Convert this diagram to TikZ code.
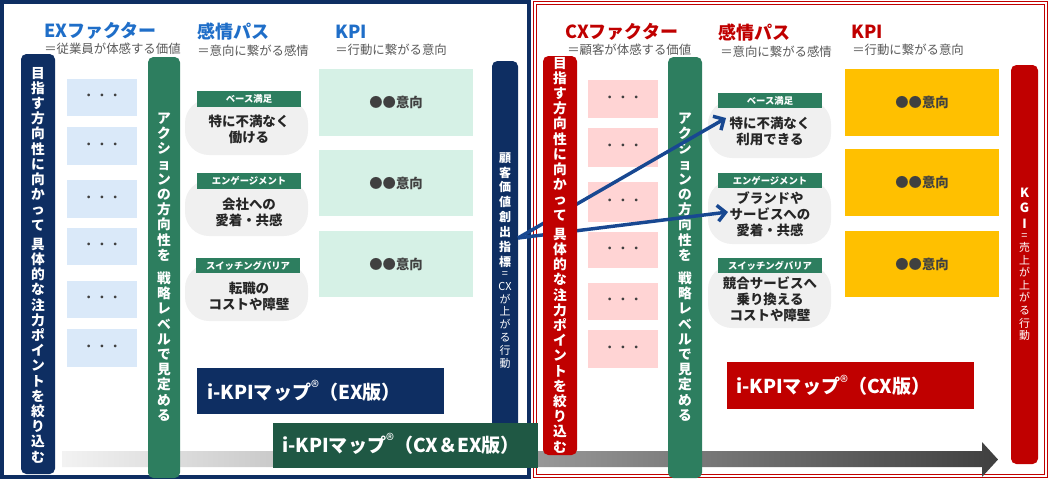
\documentclass[tikz,border=0pt]{standalone}
\usepackage{fontspec}
\setmainfont{Noto Sans CJK JP}
\usetikzlibrary{arrows.meta,fit}
\definecolor{navy}{RGB}{14,46,98}
\definecolor{exhead}{RGB}{31,110,200}
\definecolor{redc}{RGB}{192,0,0}
\definecolor{gtxt}{RGB}{89,89,89}
\definecolor{exlb}{RGB}{218,233,249}
\definecolor{mint}{RGB}{214,241,230}
\definecolor{pinkc}{RGB}{255,212,212}
\definecolor{gold}{RGB}{255,192,0}
\definecolor{grn}{RGB}{45,126,95}
\definecolor{dgrn}{RGB}{31,88,68}
\definecolor{blobc}{RGB}{240,240,240}
\definecolor{arrblue}{RGB}{24,72,145}
\definecolor{dark}{RGB}{64,64,64}
\newcommand\fsz[2]{\fontsize{#1}{#2}\selectfont}
\newcommand\regm{\raisebox{0.28em}{\fsz{12.5}{12.5}\mdseries ®}}
% box with centred text: style, fit, name, text style, text
\newcommand\tbox[5]{\node[#1,fit={#2}] (#3) {};\node[#4] (#3t) at (#3.center) {#5};}
\begin{document}
\begin{tikzpicture}[x=0.75pt,y=-0.75pt,
  area/.style={inner sep=0pt,outer sep=0pt,draw=none},
  exfac/.style={area,fill=exlb},
  cxfac/.style={area,fill=pinkc},
  dots/.style={inner sep=0pt,font=\fsz{10}{12},text=dark},
  kpiex/.style={area,fill=mint},
  kpicx/.style={area,fill=gold},
  kpit/.style={inner sep=0pt,font=\fsz{10}{12}\bfseries,text=dark},
  blob/.style={area,fill=blobc,rounded corners=18pt},
  tabbox/.style={area,fill=grn},
  tabt/.style={inner sep=0pt,text=white,font=\fsz{7}{8}\bfseries},
  emo/.style={inner sep=0pt,align=center,text=black!85,font=\fsz{10.1}{12}\bfseries},
  vbar/.style={area,rounded corners=4pt},
  vt/.style={inner sep=0pt,align=center,text=white,font=\fsz{10.3}{11.4}\bfseries},
  head/.style={anchor=west,inner sep=0pt,font=\fsz{13.5}{16}\bfseries},
  subt/.style={anchor=west,inner sep=0pt,text=gtxt,font=\fsz{9.3}{11}},
  mapl/.style={area},
  mapt/.style={anchor=west,inner sep=0pt,text=white,font=\fsz{14.3}{16}\bfseries},
  arr/.style={draw=arrblue,line width=2.6pt,-{Straight Barb[length=6pt,width=12pt]}}
]
\useasboundingbox (0,0) rectangle (1050,480);
% frames
\draw[navy,line width=2.3pt] (2,2) rectangle (529,477);
\draw[redc,line width=0.8pt,double=white,double distance=1.6pt] (535,3) rectangle (1046,476);
% bottom gradient arrow
\shade[left color=black!5,right color=black!75] (62,451) -- (982,451) -- (982,442) -- (998,459.5) -- (982,477) -- (982,467) -- (62,467) -- cycle;

% ===== EX side =====
\tbox{exfac}{(67,79)(137,116)}{ef1}{dots}{・・・}
\tbox{exfac}{(67,127)(137,165)}{ef2}{dots}{・・・}
\tbox{exfac}{(67,180)(137,218)}{ef3}{dots}{・・・}
\tbox{exfac}{(67,228)(137,265)}{ef4}{dots}{・・・}
\tbox{exfac}{(67,281)(137,318)}{ef5}{dots}{・・・}
\tbox{exfac}{(67,329)(137,367)}{ef6}{dots}{・・・}

\node[blob,fit={(185,99)(308,155)}] (eb1) {};
\node[blob,fit={(185,180)(308,236)}] (eb2) {};
\node[blob,fit={(185,264)(308,321)}] (eb3) {};
\tbox{tabbox}{(197,91)(301,107)}{et1}{tabt}{ベース満足}
\tbox{tabbox}{(197,173)(301,189)}{et2}{tabt}{エンゲージメント}
\tbox{tabbox}{(196,258)(300,273)}{et3}{tabt}{スイッチングバリア}
\node[emo] (ee1) at (249,129) {特に不満なく\\働ける};
\node[emo] (ee2) at (249,212) {会社への\\愛着・共感};
\node[emo] (ee3) at (249,296) {転職の\\コストや障壁};

\tbox{kpiex}{(319,69)(473,136)}{ek1}{kpit}{●●意向}
\tbox{kpiex}{(319,150)(473,216)}{ek2}{kpit}{●●意向}
\tbox{kpiex}{(319,231)(473,297)}{ek3}{kpit}{●●意向}

\node[vbar,fill=navy,fit={(21,54)(55,474)}] (exbar) {};
\node[vt] (exbart) at (38,265) {目\\指\\す\\方\\向\\性\\に\\向\\か\\っ\\て\\[3pt]具\\体\\的\\な\\注\\力\\ポ\\イ\\ン\\ト\\を\\絞\\り\\込\\む};
\node[vbar,fill=grn,fit={(148,57)(180,478)}] (exgbar) {};
\node[vt] (exgbart) at (164,267) {ア\\ク\\シ\\ョ\\ン\\の\\方\\向\\性\\を\\[6pt]戦\\略\\レ\\ベ\\ル\\で\\見\\定\\め\\る};

\node[vbar,fill=navy,fit={(492,61)(518,430)}] (cxi) {};
\node[inner sep=0pt,align=center,text=white,font=\fsz{9}{11.2}\bfseries] (cxib) at (505,210) {顧\\客\\価\\値\\創\\出\\指\\標};
\node[inner sep=0pt,align=center,text=white,font=\fsz{8.2}{9.7}] (cxir) at (505,320) {=\\CX\\が\\上\\が\\る\\行\\動};

% ===== CX side =====
\tbox{cxfac}{(588,80)(658,118)}{cf1}{dots}{・・・}
\tbox{cxfac}{(588,128)(658,167)}{cf2}{dots}{・・・}
\tbox{cxfac}{(588,182)(658,222)}{cf3}{dots}{・・・}
\tbox{cxfac}{(588,232)(658,268)}{cf4}{dots}{・・・}
\tbox{cxfac}{(588,283)(658,320)}{cf5}{dots}{・・・}
\tbox{cxfac}{(588,330)(658,368)}{cf6}{dots}{・・・}

\node[blob,fit={(708,100)(831,158)}] (cb1) {};
\node[blob,fit={(708,180)(831,244)}] (cb2) {};
\node[blob,fit={(708,265)(831,328)}] (cb3) {};
\tbox{tabbox}{(718,93)(822,108)}{ct1}{tabt}{ベース満足}
\tbox{tabbox}{(718,173)(822,188)}{ct2}{tabt}{エンゲージメント}
\tbox{tabbox}{(718,258)(822,273)}{ct3}{tabt}{スイッチングバリア}
\node[emo] (ce1) at (770,131) {特に不満なく\\利用できる};
\node[emo] (ce2) at (770,214) {ブランドや\\サービスへの\\愛着・共感};
\node[emo] (ce3) at (770,299) {競合サービスへ\\乗り換える\\コストや障壁};

\tbox{kpicx}{(845,69)(999,136)}{ck1}{kpit}{●●意向}
\tbox{kpicx}{(845,149)(999,216)}{ck2}{kpit}{●●意向}
\tbox{kpicx}{(845,231)(999,297)}{ck3}{kpit}{●●意向}

\node[vbar,fill=grn,fit={(668,57)(702,478)}] (cxgbar) {};
\node[vt] (cxgbart) at (685,267) {ア\\ク\\シ\\ョ\\ン\\の\\方\\向\\性\\を\\[6pt]戦\\略\\レ\\ベ\\ル\\で\\見\\定\\め\\る};

% arrows
\coordinate (s) at (518,238);
\coordinate (t1) at (726,118);
\coordinate (t2) at (728,212);
\draw[arr] (s) -- (t1);
\draw[arr] (s) -- (t2);

\node[vbar,fill=redc,fit={(543,56)(577,455)}] (cxbar) {};
\node[vt] (cxbart) at (560,255) {目\\指\\す\\方\\向\\性\\に\\向\\か\\っ\\て\\[3pt]具\\体\\的\\な\\注\\力\\ポ\\イ\\ン\\ト\\を\\絞\\り\\込\\む};

\node[vbar,fill=redc,fit={(1011,65)(1038,464)}] (kgi) {};
\node[inner sep=0pt,align=center,text=white,font=\fsz{9.5}{11.6}\bfseries] (kgib) at (1024.5,208) {K\\G\\I};
\node[inner sep=0pt,align=center,text=white,font=\fsz{8.2}{9.4}] (kgir) at (1024.5,287) {=\\売\\上\\が\\上\\が\\る\\行\\動};

% map labels
\node[mapl,fill=navy,fit={(197,368)(444,414)}] (mex) {};
\node[mapt] (mext) at (207,391) {i-KPIマップ\regm（EX版）};
\node[mapl,fill=redc,fit={(727,362)(974,409)}] (mcx) {};
\node[mapt] (mcxt) at (736,385.5) {i-KPIマップ\regm（CX版）};
\node[mapl,fill=dgrn,fit={(273,423)(538,468)}] (mall) {};
\node[mapt] (mallt) at (282,444) {i-KPIマップ\regm（CX＆EX版）};

% headers
\node[head,text=exhead] (h1) at (44,31) {EXファクター};
\node[subt] (s1) at (44,49) {＝従業員が体感する価値};
\node[head,text=exhead] (h2) at (197,32) {感情パス};
\node[subt] (s2) at (197,51) {＝意向に繋がる感情};
\node[head,text=exhead] (h3) at (335,32) {KPI};
\node[subt] (s3) at (335,50) {＝行動に繋がる意向};
\node[head,text=redc] (h4) at (565,32) {CXファクター};
\node[subt] (s4) at (567,50) {＝顧客が体感する価値};
\node[head,text=redc] (h5) at (718,33) {感情パス};
\node[subt] (s5) at (720,52) {＝意向に繋がる感情};
\node[head,text=redc] (h6) at (851,32) {KPI};
\node[subt] (s6) at (852,50) {＝行動に繋がる意向};
\end{tikzpicture}
\end{document}
